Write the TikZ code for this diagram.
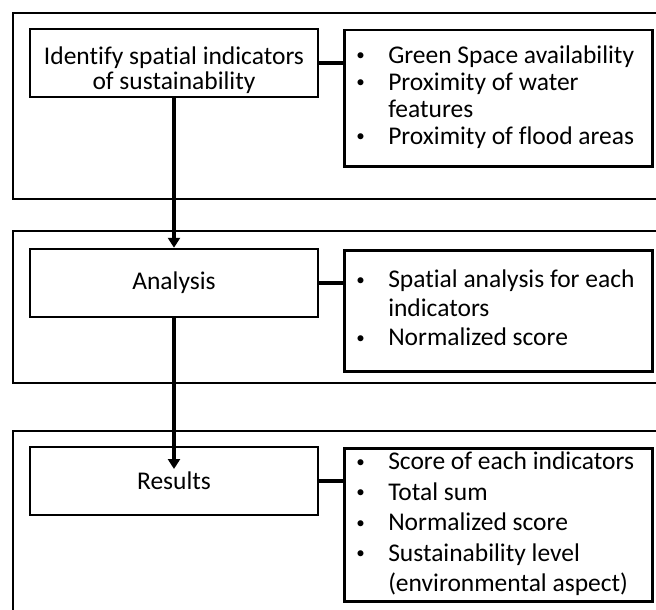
\documentclass[tikz,border=0pt]{standalone}
\usepackage{fontspec}
\setmainfont{Carlito}[Ligatures=NoCommon]
\usetikzlibrary{arrows.meta}
\tikzstyle{frame}=[draw=black,line width=2.5pt]
\tikzstyle{stepbox}=[draw=black,line width=2.5pt,minimum width=288pt,minimum height=68pt,align=center,inner sep=0pt,font=\fontsize{25.5}{25}\selectfont]
\tikzstyle{listbox}=[draw=black,line width=2.5pt,text width=284pt,inner xsep=12pt,inner ysep=0pt,align=left,anchor=north west]
\tikzstyle{link}=[line width=3.5pt]
\tikzstyle{flow}=[line width=3.5pt,-{Triangle[length=10pt,width=12pt]}]
\newcommand{\bulletlist}[1]{\spaceskip=0pt\xspaceskip=0pt\begin{tabular}{@{}p{9pt}@{\hspace{23pt}}l@{}}#1\end{tabular}}
\newcommand{\dotitem}{\raisebox{2.5pt}{\fontsize{17}{17}\selectfont\textbullet}}

\begin{document}
\begin{tikzpicture}[x=1pt,y=-1pt]
\clip (0,0) rectangle (656,610);
\draw[frame] (13,13) rectangle (680,199);
\draw[frame] (13,231) rectangle (680,383);
\draw[frame] (13,431) rectangle (680,640);
\node[stepbox] (ident) at (174,63) {\raisebox{-15pt}[0pt][0pt]{\begin{tabular}{@{}c@{}}Identify spatial indicators\\of sustainability\end{tabular}}};
\node[listbox,minimum height=136pt,font=\fontsize{25.5}{27}\selectfont] (ilist) at (343,29) {\bulletlist{\dotitem & Green Space availability\\ \dotitem & Proximity of water\\ & features\\ \dotitem & Proximity of flood areas}};
\node[stepbox] (anal) at (174,283) {Analysis};
\node[listbox,minimum height=121pt,font=\fontsize{25.5}{29}\selectfont] (alist) at (343,249) {\bulletlist{\dotitem & Spatial analysis for each\\ & indicators\\ \dotitem & Normalized score}};
\node[stepbox] (res) at (174,481) {Results};
\node[listbox,minimum height=153pt,font=\fontsize{25.5}{30.5}\selectfont] (rlist) at (343,447) {\bulletlist{\dotitem & Score of each indicators\\ \dotitem & Total sum\\ \dotitem & Normalized score\\ \dotitem & Sustainability level\\ & (environmental aspect)}};
\coordinate (tip) at (174,469);
\draw[link] (ident.east) -- (ident.east -| ilist.west);
\draw[link] (anal.east) -- (anal.east -| alist.west);
\draw[link] (res.east) -- (res.east -| rlist.west);
\draw[flow] (ident.south) -- (anal.north);
\draw[flow] (anal.south) -- (tip);
\end{tikzpicture}
\end{document}
